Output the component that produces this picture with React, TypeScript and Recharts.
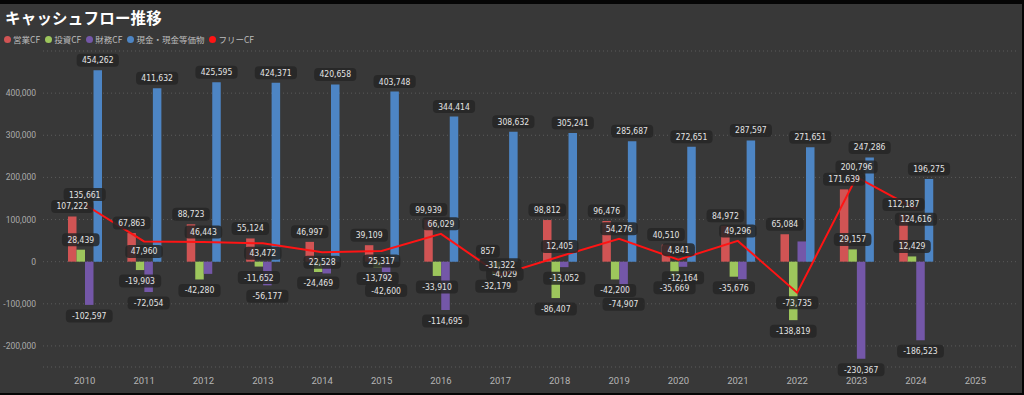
import React from "react";
import {
  Bar,
  CartesianGrid,
  ComposedChart,
  LabelList,
  Line,
  XAxis,
  YAxis,
} from "recharts";

// 年度
const years = [
  "2010", "2011", "2012", "2013", "2014", "2015", "2016", "2017",
  "2018", "2019", "2020", "2021", "2022", "2023", "2024", "2025",
];

// 営業CF
const operatingCf = [
  107222, 67863, 88723, 55124, 46997, 39109, 99939, 857,
  98812, 96476, 40510, 84972, 65084, 171639, 112187, null,
];

// 投資CF
const investingCf = [
  28439, -19903, -42280, -11652, -24469, -13792, -33910, -32179,
  -86407, -42200, -35669, -35676, -138819, 29157, 12429, null,
];

// 財務CF (2012/2014/2021/2022 はラベル非表示)
const financingCf = [
  -102597, -72054, -29000, -56177, -28000, -42600, -114695, -4029,
  -13052, -74907, -12164, -41600, 48000, -230367, -186523, null,
];
const hiddenFinancingLabels = ["2012", "2014", "2021", "2022"];

// 現金・現金等価物
const cashBalance = [
  454262, 411632, 425595, 424371, 420658, 403748, 344414, 308632,
  305241, 285687, 272651, 287597, 271651, 247286, 196275, null,
];

// フリーCF
const freeCf = [
  135661, 47960, 46443, 43472, 22528, 25317, 66029, -31322,
  12405, 54276, 4841, 49296, -73735, 200796, 124616, null,
];
// 営業CFのラベルと重なる年はフリーCFのラベルを線の下に出す
const freeLabelBelow = ["2011", "2013", "2014", "2015", "2022", "2024"];

const yTicks = [-200000, -100000, 0, 100000, 200000, 300000, 400000];

const COLORS = {
  operating: "#d15454",
  investing: "#9dc65c",
  financing: "#7457a8",
  cash: "#4d85c4",
  free: "#ff1414",
};

const legendItems = [
  { label: "営業CF", color: COLORS.operating },
  { label: "投資CF", color: COLORS.investing },
  { label: "財務CF", color: COLORS.financing },
  { label: "現金・現金等価物", color: COLORS.cash },
  { label: "フリーCF", color: COLORS.free },
];

const fmt = (v: number) => v.toLocaleString("en-US");

const LABEL_FONT = "'DejaVu Sans Condensed', 'Roboto', sans-serif";

function ValueTag({ cx, cy, value }: { cx: number; cy: number; value: number }) {
  const text = fmt(value);
  const w = text.length * 4.6 + 10;
  return (
    <g>
      <rect
        x={cx - w / 2}
        y={cy - 6.5}
        width={w}
        height={13}
        rx={4}
        fill="rgba(38,38,38,0.85)"
      />
      <text
        x={cx}
        y={cy}
        textAnchor="middle"
        dominantBaseline="central"
        fontSize={8.5}
        fontFamily={LABEL_FONT}
        fill="#e4e4e4"
      >
        {text}
      </text>
    </g>
  );
}

function barLabel(hidden: string[] = []) {
  return (props: any) => {
    const { x, y, width, height, value, index } = props;
    if (value == null) return null;
    if (hidden.includes(years[index])) return null;
    const top = Math.min(y, y + height);
    const bottom = Math.max(y, y + height);
    const cx = x + width / 2;
    const cy = value >= 0 ? top - 10 : bottom + 11;
    return <ValueTag key={`l-${index}`} cx={cx} cy={cy} value={value} />;
  };
}

function lineLabel(props: any) {
  const { x, y, value, index } = props;
  if (value == null) return null;
  const below = freeLabelBelow.includes(years[index]);
  return <ValueTag key={`f-${index}`} cx={x} cy={below ? y + 10 : y - 10} value={value} />;
}

export default function App() {
  const data = years.map((year, i) => ({
    year,
    operating: operatingCf[i],
    investing: investingCf[i],
    financing: financingCf[i],
    cash: cashBalance[i],
    free: freeCf[i],
  }));

  return (
    <div
      style={{
        position: "absolute",
        left: 0,
        top: 0,
        width: 1024,
        height: 395,
        background: "#050505",
      }}
    >
      <div
        style={{
          position: "absolute",
          left: 0,
          top: 4,
          width: 1022,
          height: 389,
          background: "#383838",
          overflow: "hidden",
        }}
      >
        <div
          style={{
            position: "absolute",
            left: 5,
            top: 2,
            color: "#ffffff",
            fontFamily: "'Noto Sans CJK JP', sans-serif",
            fontSize: 15.5,
            fontWeight: 700,
            letterSpacing: 0.2,
          }}
        >
          キャッシュフロー推移
        </div>
        <div
          style={{
            position: "absolute",
            left: 4,
            top: 29,
            display: "flex",
            alignItems: "center",
            gap: 5,
            fontFamily: "'Noto Sans CJK JP', sans-serif",
            fontSize: 8.5,
            color: "#bdbdbd",
          }}
        >
          {legendItems.map((it) => (
            <span key={it.label} style={{ display: "flex", alignItems: "center", gap: 2 }}>
              <span
                style={{
                  display: "inline-block",
                  width: 7,
                  height: 7,
                  borderRadius: "50%",
                  background: it.color,
                }}
              />
              {it.label}
            </span>
          ))}
        </div>
        <div style={{ position: "absolute", left: 0, top: -4 }}>
          <ComposedChart
            width={1024}
            height={395}
            data={data}
            margin={{ top: 51, right: 7, bottom: 0, left: 0 }}
            barGap={0}
          >
            <CartesianGrid
              vertical={false}
              stroke="#5a5a5a"
              strokeDasharray="1 3"
            />
            <XAxis
              dataKey="year"
              height={28}
              axisLine={false}
              tickLine={false}
              padding={{ left: 12, right: 12 }}
              tick={{ fontSize: 9.5, fill: "#b5b5b5", fontFamily: "Roboto, sans-serif" }}
              tickMargin={4}
              interval={0}
            />
            <YAxis
              width={43}
              domain={[-250000, 500000]}
              ticks={yTicks}
              axisLine={false}
              tickLine={false}
              tickMargin={1}
              tickFormatter={(v: number) => fmt(v)}
              tick={{ fontSize: 8.5, fill: "#ababab", fontFamily: "Roboto, sans-serif" }}
            />
            <Bar dataKey="operating" fill={COLORS.operating} barSize={8.5} isAnimationActive={false}>
              <LabelList dataKey="operating" content={barLabel()} />
            </Bar>
            <Bar dataKey="investing" fill={COLORS.investing} barSize={8.5} isAnimationActive={false}>
              <LabelList dataKey="investing" content={barLabel()} />
            </Bar>
            <Bar dataKey="financing" fill={COLORS.financing} barSize={8.5} isAnimationActive={false}>
              <LabelList dataKey="financing" content={barLabel(hiddenFinancingLabels)} />
            </Bar>
            <Bar dataKey="cash" fill={COLORS.cash} barSize={8.5} isAnimationActive={false}>
              <LabelList dataKey="cash" content={barLabel()} />
            </Bar>
            <Line
              type="linear"
              dataKey="free"
              stroke={COLORS.free}
              strokeWidth={2}
              dot={false}
              activeDot={false}
              isAnimationActive={false}
            >
              <LabelList dataKey="free" content={lineLabel} />
            </Line>
          </ComposedChart>
        </div>
      </div>
    </div>
  );
}
